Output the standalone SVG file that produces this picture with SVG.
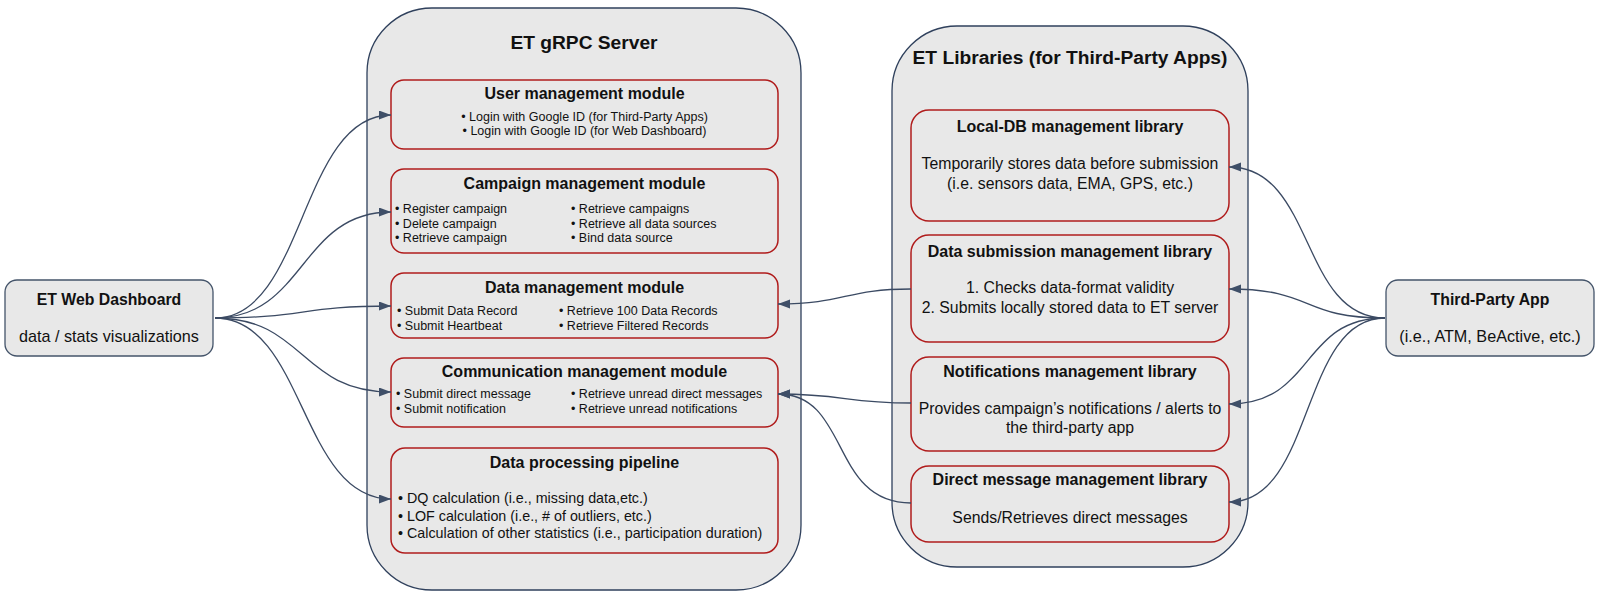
<svg xmlns="http://www.w3.org/2000/svg" width="1600" height="598" viewBox="0 0 1600 598">
<defs>
<marker id="arr" markerUnits="userSpaceOnUse" markerWidth="13" markerHeight="10" refX="12" refY="4.5" orient="auto">
<path d="M0,0 L12,4.5 L0,9 z" fill="#3f4f68"/>
</marker>
<style>
.outer{fill:#e8e8e8;stroke:#2f405c;stroke-width:1.3}
.mod{fill:#e8e8e8;stroke:#b01c1c;stroke-width:1.5}
.ext{fill:#e8e8e8;stroke:#44546a;stroke-width:1.3}
text{font-family:"Liberation Sans",Arial,sans-serif;fill:#111}
.big{font-size:19.2px;font-weight:bold;text-anchor:middle}
.mt{font-size:16px;font-weight:bold;text-anchor:middle}
.b{font-size:12.5px}
.bc{font-size:12.5px;text-anchor:middle}
.p{font-size:14.3px}
.lt{font-size:16px;font-weight:bold;text-anchor:middle}
.lb{font-size:15.8px;text-anchor:middle}
.et{font-size:15.8px;font-weight:bold;text-anchor:middle}
.es{font-size:16.2px;text-anchor:middle}
.c{fill:none;stroke:#3b4a63;stroke-width:1.3;marker-end:url(#arr)}
</style>
</defs>

<g id="server">
<rect class="outer" x="367" y="8" width="434" height="582" rx="65"/>
<text class="big" x="584" y="49">ET gRPC Server</text>
</g>

<g id="libraries">
<rect class="outer" x="892" y="26" width="356" height="541" rx="65"/>
<text class="big" x="1070" y="64">ET Libraries (for Third-Party Apps)</text>
</g>

<g id="user-module">
<rect class="mod" x="391" y="80" width="387" height="69" rx="13"/>
<text class="mt" x="584.5" y="99">User management module</text>
<text class="bc" x="584.5" y="121">• Login with Google ID (for Third-Party Apps)</text>
<text class="bc" x="584.5" y="135">• Login with Google ID (for Web Dashboard)</text>
</g>

<g id="campaign-module">
<rect class="mod" x="391" y="169" width="387" height="84" rx="13"/>
<text class="mt" x="584.5" y="189">Campaign management module</text>
<text class="b" x="395" y="213">• Register campaign</text>
<text class="b" x="395" y="228">• Delete campaign</text>
<text class="b" x="395" y="242">• Retrieve campaign</text>
<text class="b" x="571" y="213">• Retrieve campaigns</text>
<text class="b" x="571" y="228">• Retrieve all data sources</text>
<text class="b" x="571" y="242">• Bind data source</text>
</g>

<g id="data-module">
<rect class="mod" x="391" y="273" width="387" height="65" rx="13"/>
<text class="mt" x="584.5" y="293">Data management module</text>
<text class="b" x="397" y="315">• Submit Data Record</text>
<text class="b" x="397" y="330">• Submit Heartbeat</text>
<text class="b" x="559" y="315">• Retrieve 100 Data Records</text>
<text class="b" x="559" y="330">• Retrieve Filtered Records</text>
</g>

<g id="communication-module">
<rect class="mod" x="391" y="358" width="387" height="69" rx="13"/>
<text class="mt" x="584.5" y="377">Communication management module</text>
<text class="b" x="396" y="398">• Submit direct message</text>
<text class="b" x="396" y="413">• Submit notification</text>
<text class="b" x="571" y="398">• Retrieve unread direct messages</text>
<text class="b" x="571" y="413">• Retrieve unread notifications</text>
</g>

<g id="pipeline">
<rect class="mod" x="391" y="448" width="387" height="105" rx="14"/>
<text class="mt" x="584.5" y="468">Data processing pipeline</text>
<text class="p" x="398" y="503">• DQ calculation (i.e., missing data,etc.)</text>
<text class="p" x="398" y="521">• LOF calculation (i.e., # of outliers, etc.)</text>
<text class="p" x="398" y="538">• Calculation of other statistics (i.e., participation duration)</text>
</g>

<g id="localdb-library">
<rect class="mod" x="911" y="110" width="318" height="111" rx="18"/>
<text class="lt" x="1070" y="132">Local-DB management library</text>
<text class="lb" x="1070" y="168.5">Temporarily stores data before submission</text>
<text class="lb" x="1070" y="188.5">(i.e. sensors data, EMA, GPS, etc.)</text>
</g>

<g id="submission-library">
<rect class="mod" x="911" y="235" width="318" height="107" rx="18"/>
<text class="lt" x="1070" y="257">Data submission management library</text>
<text class="lb" x="1070" y="292.5">1. Checks data-format validity</text>
<text class="lb" x="1070" y="312.5">2. Submits locally stored data to ET server</text>
</g>

<g id="notifications-library">
<rect class="mod" x="911" y="357" width="318" height="94" rx="18"/>
<text class="lt" x="1070" y="377">Notifications management library</text>
<text class="lb" x="1070" y="413.5">Provides campaign’s notifications / alerts to</text>
<text class="lb" x="1070" y="432.5">the third-party app</text>
</g>

<g id="direct-message-library">
<rect class="mod" x="911" y="466" width="318" height="76" rx="18"/>
<text class="lt" x="1070" y="485">Direct message management library</text>
<text class="lb" x="1070" y="522.5">Sends/Retrieves direct messages</text>
</g>

<g id="web-dashboard">
<rect class="ext" x="5" y="280" width="208" height="76" rx="12"/>
<text class="et" x="109" y="305">ET Web Dashboard</text>
<text class="es" x="109" y="342">data / stats visualizations</text>
</g>

<g id="third-party-app">
<rect class="ext" x="1386" y="280" width="208" height="76" rx="12"/>
<text class="et" x="1490" y="305">Third-Party App</text>
<text class="es" x="1490" y="342">(i.e., ATM, BeActive, etc.)</text>
</g>

<g id="connectors">
<path class="c" d="M215,318 C305,318 300,115 391,115"/>
<path class="c" d="M215,318 C305,318 300,212 391,212"/>
<path class="c" d="M215,318 C305,318 300,306 391,306"/>
<path class="c" d="M215,318 C305,318 300,392 391,392"/>
<path class="c" d="M215,318 C305,318 300,499 391,499"/>
<path class="c" d="M1385,318 C1300,318 1315,167 1229,167"/>
<path class="c" d="M1385,318 C1300,318 1315,289 1229,289"/>
<path class="c" d="M1385,318 C1300,318 1315,404 1229,404"/>
<path class="c" d="M1385,318 C1300,318 1315,502 1229,502"/>
<path class="c" d="M911,289 C845,289 845,304 778,304"/>
<path class="c" d="M911,403 C845,403 845,394 778,394"/>
<path class="c" d="M911,503 C830,503 850,394 778,394"/>
</g>
</svg>
